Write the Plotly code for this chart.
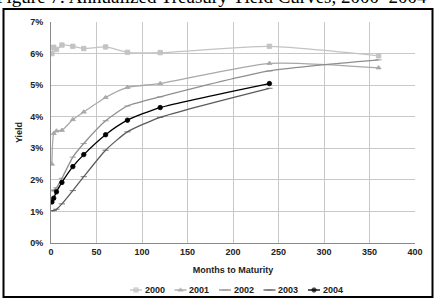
import plotly.graph_objects as go

months = [1, 3, 6, 12, 24, 36, 60, 84, 120, 240, 360]
months_short = [1, 3, 6, 12, 24, 36, 60, 84, 120, 240]
y2000 = [6.00, 6.20, 6.13, 6.27, 6.23, 6.16, 6.21, 6.04, 6.03, 6.23, 5.93]
y2001 = [2.50, 3.47, 3.55, 3.57, 3.91, 4.15, 4.61, 4.93, 5.05, 5.69, 5.55]
y2002 = [1.65, 1.68, 1.75, 2.05, 2.72, 3.15, 3.87, 4.34, 4.63, 5.45, 5.80]
y2003 = [1.02, 1.03, 1.07, 1.24, 1.66, 2.10, 2.94, 3.52, 3.98, 4.90]
y2004 = [1.30, 1.42, 1.62, 1.92, 2.42, 2.80, 3.43, 3.89, 4.29, 5.05]
series_names = ["2000", "2001", "2002", "2003", "2004"]

W, H = 436, 300
# plot area in pixels
PL, PR, PT, PB = 51, 415, 22, 243

styles = [
    ("#c3c3c3", "square"),
    ("#a8a8a8", "triangle-up"),
    ("#8e8e8e", "line-ew-open"),
    ("#5a5a5a", "line-ew-open"),
    ("#000000", "circle"),
]
data = [(months, y2000), (months, y2001), (months, y2002),
        (months_short, y2003), (months_short, y2004)]

fig = go.Figure()
for name, (x, y), (c, sym) in zip(series_names, data, styles):
    fig.add_trace(go.Scatter(
        x=x, y=[v / 100 for v in y], name=name, mode="lines+markers",
        line=dict(color=c, width=1.3, shape="spline", smoothing=0.6),
        marker=dict(symbol=sym, size=4.5, color=c, line=dict(color=c, width=0.8)),
        showlegend=False,
    ))

# custom legend drawn on a separate pixel-space axis
leg_start, leg_step, leg_y = 130, 44.5, 290
for i, (name, (c, sym)) in enumerate(zip(series_names, styles)):
    x0 = leg_start + i * leg_step
    fig.add_trace(go.Scatter(
        x=[x0, x0 + 6, x0 + 12], y=[leg_y] * 3, mode="lines+markers",
        xaxis="x2", yaxis="y2", showlegend=False, hoverinfo="skip",
        line=dict(color=c, width=1.3),
        marker=dict(symbol=sym, size=[0, 4.5, 0], color=c, line=dict(color=c, width=0.8)),
    ))
    fig.add_annotation(text="<b>" + name + "</b>", xref="x2", yref="y2",
                       x=x0 + 12.5, y=leg_y, xanchor="left", yanchor="middle",
                       showarrow=False,
                       font=dict(family="Liberation Sans", size=9, color="#222222"))

font = dict(family="Liberation Sans", size=9, color="#222222")
fig.update_layout(
    width=W, height=H,
    margin=dict(l=0, r=0, t=0, b=0, autoexpand=False),
    paper_bgcolor="white", plot_bgcolor="rgba(0,0,0,0)",
    showlegend=False,
    xaxis=dict(domain=[PL / W, PR / W], range=[0, 400], dtick=50, showgrid=True,
               gridcolor="#c8c8c8", gridwidth=1, showline=True, linecolor="#8a8a8a",
               tickfont=font, ticks="", zeroline=False, automargin=False,
               tickprefix="<b>", ticksuffix="</b>",
               title=dict(text="<b>Months to Maturity</b>", font=font, standoff=10)),
    yaxis=dict(domain=[1 - PB / H, 1 - PT / H], range=[0, 0.07], dtick=0.01,
               tickformat=".0%", showgrid=True, gridcolor="#c8c8c8", gridwidth=1,
               showline=True, linecolor="#8a8a8a", tickfont=font, ticks="",
               zeroline=False, automargin=False, tickprefix="<b>", ticksuffix="</b>  ",
               title=dict(text="<b>Yield</b>", font=font, standoff=6)),
    xaxis2=dict(domain=[0, 1], range=[0, W], visible=False, fixedrange=True,
                anchor="y2"),
    yaxis2=dict(domain=[0, 1], range=[H, 0], visible=False, fixedrange=True,
                anchor="x2"),
)

# outer frame
fig.add_shape(type="rect", xref="paper", yref="paper",
              x0=3.5 / W, x1=432.5 / W, y0=1 - 297 / H, y1=1 - 9 / H,
              line=dict(color="black", width=2), layer="above")
fig.add_annotation(text="Figure 7: Annualized Treasury Yield Curves, 2000\u20132004",
                   xref="paper", yref="paper", x=211 / W, y=1 - 9 / H,
                   yanchor="bottom", xanchor="center", showarrow=False,
                   font=dict(family="Liberation Serif", size=19, color="black"))

fig.write_html("out.html")
